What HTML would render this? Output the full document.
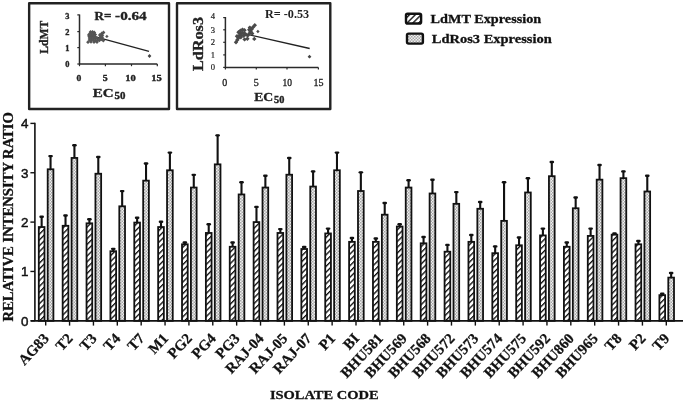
<!DOCTYPE html>
<html><head><meta charset="utf-8"><style>
html,body{margin:0;padding:0;background:#fff;}
svg{display:block;filter:grayscale(1);}
.sb{font-family:"Liberation Serif",serif;font-weight:bold;}
.ss{font-family:"Liberation Sans",sans-serif;}
.sr{font-family:"Liberation Serif",serif;}
</style></head><body>
<svg width="685" height="402" viewBox="0 0 685 402">
<defs>
<pattern id="hat" patternUnits="userSpaceOnUse" width="4.1" height="5" patternTransform="rotate(45)">
<rect width="4.1" height="5" fill="#fff"/><rect width="1.35" height="5" fill="#111"/>
</pattern>
<pattern id="dot" patternUnits="userSpaceOnUse" width="3" height="3">
<rect width="3" height="3" fill="#f0f0f0"/><rect width="1.5" height="1.5" fill="#a6a6a6"/><rect x="1.5" y="1.5" width="1.5" height="1.5" fill="#a6a6a6"/>
</pattern>
</defs>
<rect width="685" height="402" fill="#fff"/>

<line x1="34.9" y1="122.70" x2="34.9" y2="320.80" stroke="#111" stroke-width="1.6"/>
<line x1="30.4" y1="320.80" x2="34.9" y2="320.80" stroke="#111" stroke-width="1.4"/>
<text class="ss" x="28.4" y="325.60" font-size="13.4" text-anchor="end" fill="#111" stroke="#111" stroke-width="0.45">0</text>
<line x1="30.4" y1="271.45" x2="34.9" y2="271.45" stroke="#111" stroke-width="1.4"/>
<text class="ss" x="28.4" y="276.25" font-size="13.4" text-anchor="end" fill="#111" stroke="#111" stroke-width="0.45">1</text>
<line x1="30.4" y1="222.10" x2="34.9" y2="222.10" stroke="#111" stroke-width="1.4"/>
<text class="ss" x="28.4" y="226.90" font-size="13.4" text-anchor="end" fill="#111" stroke="#111" stroke-width="0.45">2</text>
<line x1="30.4" y1="172.75" x2="34.9" y2="172.75" stroke="#111" stroke-width="1.4"/>
<text class="ss" x="28.4" y="177.55" font-size="13.4" text-anchor="end" fill="#111" stroke="#111" stroke-width="0.45">3</text>
<line x1="30.4" y1="123.40" x2="34.9" y2="123.40" stroke="#111" stroke-width="1.4"/>
<text class="ss" x="28.4" y="128.20" font-size="13.4" text-anchor="end" fill="#111" stroke="#111" stroke-width="0.45">4</text>
<line x1="30.8" y1="320.80" x2="683" y2="320.80" stroke="#111" stroke-width="1.8"/>
<line x1="45.70" y1="320.80" x2="45.70" y2="325.6" stroke="#111" stroke-width="1.4"/>
<line x1="41.65" y1="227.04" x2="41.65" y2="216.18" stroke="#111" stroke-width="2.1"/>
<line x1="40.55" y1="216.78" x2="42.75" y2="216.78" stroke="#111" stroke-width="2.4" stroke-linecap="round"/>
<rect x="38.80" y="227.04" width="5.70" height="93.76" fill="url(#hat)" stroke="#111" stroke-width="1.8"/>
<line x1="50.55" y1="169.30" x2="50.55" y2="155.48" stroke="#111" stroke-width="2.1"/>
<line x1="49.45" y1="156.08" x2="51.65" y2="156.08" stroke="#111" stroke-width="2.4" stroke-linecap="round"/>
<rect x="47.70" y="169.30" width="5.70" height="151.50" fill="url(#dot)" stroke="#111" stroke-width="1.8"/>
<text class="sb" font-size="14.8" text-anchor="end" fill="#111" stroke="#111" stroke-width="0.25" transform="translate(49.70,339.0) rotate(-47)">AG83</text>
<line x1="69.57" y1="320.80" x2="69.57" y2="325.6" stroke="#111" stroke-width="1.4"/>
<line x1="65.52" y1="225.80" x2="65.52" y2="214.89" stroke="#111" stroke-width="2.1"/>
<line x1="64.42" y1="215.49" x2="66.62" y2="215.49" stroke="#111" stroke-width="2.4" stroke-linecap="round"/>
<rect x="62.67" y="225.80" width="5.70" height="95.00" fill="url(#hat)" stroke="#111" stroke-width="1.8"/>
<line x1="74.42" y1="157.95" x2="74.42" y2="144.62" stroke="#111" stroke-width="2.1"/>
<line x1="73.32" y1="145.22" x2="75.52" y2="145.22" stroke="#111" stroke-width="2.4" stroke-linecap="round"/>
<rect x="71.57" y="157.95" width="5.70" height="162.85" fill="url(#dot)" stroke="#111" stroke-width="1.8"/>
<text class="sb" font-size="14.8" text-anchor="end" fill="#111" stroke="#111" stroke-width="0.25" transform="translate(73.57,339.0) rotate(-47)">T2</text>
<line x1="93.44" y1="320.80" x2="93.44" y2="325.6" stroke="#111" stroke-width="1.4"/>
<line x1="89.39" y1="223.33" x2="89.39" y2="218.65" stroke="#111" stroke-width="2.1"/>
<line x1="88.29" y1="219.25" x2="90.49" y2="219.25" stroke="#111" stroke-width="2.4" stroke-linecap="round"/>
<rect x="86.54" y="223.33" width="5.70" height="97.47" fill="url(#hat)" stroke="#111" stroke-width="1.8"/>
<line x1="98.29" y1="173.74" x2="98.29" y2="156.46" stroke="#111" stroke-width="2.1"/>
<line x1="97.19" y1="157.06" x2="99.39" y2="157.06" stroke="#111" stroke-width="2.4" stroke-linecap="round"/>
<rect x="95.44" y="173.74" width="5.70" height="147.06" fill="url(#dot)" stroke="#111" stroke-width="1.8"/>
<text class="sb" font-size="14.8" text-anchor="end" fill="#111" stroke="#111" stroke-width="0.25" transform="translate(97.44,339.0) rotate(-47)">T3</text>
<line x1="117.31" y1="320.80" x2="117.31" y2="325.6" stroke="#111" stroke-width="1.4"/>
<line x1="113.26" y1="251.22" x2="113.26" y2="248.26" stroke="#111" stroke-width="2.1"/>
<line x1="112.16" y1="248.86" x2="114.36" y2="248.86" stroke="#111" stroke-width="2.4" stroke-linecap="round"/>
<rect x="110.41" y="251.22" width="5.70" height="69.58" fill="url(#hat)" stroke="#111" stroke-width="1.8"/>
<line x1="122.16" y1="206.31" x2="122.16" y2="190.52" stroke="#111" stroke-width="2.1"/>
<line x1="121.06" y1="191.12" x2="123.26" y2="191.12" stroke="#111" stroke-width="2.4" stroke-linecap="round"/>
<rect x="119.31" y="206.31" width="5.70" height="114.49" fill="url(#dot)" stroke="#111" stroke-width="1.8"/>
<text class="sb" font-size="14.8" text-anchor="end" fill="#111" stroke="#111" stroke-width="0.25" transform="translate(121.31,339.0) rotate(-47)">T4</text>
<line x1="141.18" y1="320.80" x2="141.18" y2="325.6" stroke="#111" stroke-width="1.4"/>
<line x1="137.13" y1="222.59" x2="137.13" y2="217.17" stroke="#111" stroke-width="2.1"/>
<line x1="136.03" y1="217.77" x2="138.23" y2="217.77" stroke="#111" stroke-width="2.4" stroke-linecap="round"/>
<rect x="134.28" y="222.59" width="5.70" height="98.21" fill="url(#hat)" stroke="#111" stroke-width="1.8"/>
<line x1="146.03" y1="180.65" x2="146.03" y2="162.88" stroke="#111" stroke-width="2.1"/>
<line x1="144.93" y1="163.48" x2="147.13" y2="163.48" stroke="#111" stroke-width="2.4" stroke-linecap="round"/>
<rect x="143.18" y="180.65" width="5.70" height="140.15" fill="url(#dot)" stroke="#111" stroke-width="1.8"/>
<text class="sb" font-size="14.8" text-anchor="end" fill="#111" stroke="#111" stroke-width="0.25" transform="translate(145.18,339.0) rotate(-47)">T7</text>
<line x1="165.05" y1="320.80" x2="165.05" y2="325.6" stroke="#111" stroke-width="1.4"/>
<line x1="161.00" y1="227.04" x2="161.00" y2="221.11" stroke="#111" stroke-width="2.1"/>
<line x1="159.90" y1="221.71" x2="162.10" y2="221.71" stroke="#111" stroke-width="2.4" stroke-linecap="round"/>
<rect x="158.15" y="227.04" width="5.70" height="93.76" fill="url(#hat)" stroke="#111" stroke-width="1.8"/>
<line x1="169.90" y1="170.28" x2="169.90" y2="152.02" stroke="#111" stroke-width="2.1"/>
<line x1="168.80" y1="152.62" x2="171.00" y2="152.62" stroke="#111" stroke-width="2.4" stroke-linecap="round"/>
<rect x="167.05" y="170.28" width="5.70" height="150.52" fill="url(#dot)" stroke="#111" stroke-width="1.8"/>
<text class="sb" font-size="14.8" text-anchor="end" fill="#111" stroke="#111" stroke-width="0.25" transform="translate(169.05,339.0) rotate(-47)">M1</text>
<line x1="188.92" y1="320.80" x2="188.92" y2="325.6" stroke="#111" stroke-width="1.4"/>
<line x1="184.87" y1="244.31" x2="184.87" y2="241.84" stroke="#111" stroke-width="2.1"/>
<line x1="183.77" y1="242.44" x2="185.97" y2="242.44" stroke="#111" stroke-width="2.4" stroke-linecap="round"/>
<rect x="182.02" y="244.31" width="5.70" height="76.49" fill="url(#hat)" stroke="#111" stroke-width="1.8"/>
<line x1="193.77" y1="187.56" x2="193.77" y2="174.23" stroke="#111" stroke-width="2.1"/>
<line x1="192.67" y1="174.83" x2="194.87" y2="174.83" stroke="#111" stroke-width="2.4" stroke-linecap="round"/>
<rect x="190.92" y="187.56" width="5.70" height="133.25" fill="url(#dot)" stroke="#111" stroke-width="1.8"/>
<text class="sb" font-size="14.8" text-anchor="end" fill="#111" stroke="#111" stroke-width="0.25" transform="translate(192.92,339.0) rotate(-47)">PG2</text>
<line x1="212.78" y1="320.80" x2="212.78" y2="325.6" stroke="#111" stroke-width="1.4"/>
<line x1="208.73" y1="232.96" x2="208.73" y2="223.58" stroke="#111" stroke-width="2.1"/>
<line x1="207.63" y1="224.18" x2="209.83" y2="224.18" stroke="#111" stroke-width="2.4" stroke-linecap="round"/>
<rect x="205.88" y="232.96" width="5.70" height="87.84" fill="url(#hat)" stroke="#111" stroke-width="1.8"/>
<line x1="217.63" y1="164.36" x2="217.63" y2="134.75" stroke="#111" stroke-width="2.1"/>
<line x1="216.53" y1="135.35" x2="218.73" y2="135.35" stroke="#111" stroke-width="2.4" stroke-linecap="round"/>
<rect x="214.78" y="164.36" width="5.70" height="156.44" fill="url(#dot)" stroke="#111" stroke-width="1.8"/>
<text class="sb" font-size="14.8" text-anchor="end" fill="#111" stroke="#111" stroke-width="0.25" transform="translate(216.78,339.0) rotate(-47)">PG4</text>
<line x1="236.65" y1="320.80" x2="236.65" y2="325.6" stroke="#111" stroke-width="1.4"/>
<line x1="232.60" y1="246.78" x2="232.60" y2="241.84" stroke="#111" stroke-width="2.1"/>
<line x1="231.50" y1="242.44" x2="233.70" y2="242.44" stroke="#111" stroke-width="2.4" stroke-linecap="round"/>
<rect x="229.75" y="246.78" width="5.70" height="74.03" fill="url(#hat)" stroke="#111" stroke-width="1.8"/>
<line x1="241.50" y1="194.46" x2="241.50" y2="181.63" stroke="#111" stroke-width="2.1"/>
<line x1="240.40" y1="182.23" x2="242.60" y2="182.23" stroke="#111" stroke-width="2.4" stroke-linecap="round"/>
<rect x="238.65" y="194.46" width="5.70" height="126.34" fill="url(#dot)" stroke="#111" stroke-width="1.8"/>
<text class="sb" font-size="14.8" text-anchor="end" fill="#111" stroke="#111" stroke-width="0.25" transform="translate(240.65,339.0) rotate(-47)">PG3</text>
<line x1="260.52" y1="320.80" x2="260.52" y2="325.6" stroke="#111" stroke-width="1.4"/>
<line x1="256.47" y1="222.10" x2="256.47" y2="206.31" stroke="#111" stroke-width="2.1"/>
<line x1="255.37" y1="206.91" x2="257.57" y2="206.91" stroke="#111" stroke-width="2.4" stroke-linecap="round"/>
<rect x="253.62" y="222.10" width="5.70" height="98.70" fill="url(#hat)" stroke="#111" stroke-width="1.8"/>
<line x1="265.37" y1="187.56" x2="265.37" y2="175.22" stroke="#111" stroke-width="2.1"/>
<line x1="264.27" y1="175.82" x2="266.47" y2="175.82" stroke="#111" stroke-width="2.4" stroke-linecap="round"/>
<rect x="262.52" y="187.56" width="5.70" height="133.25" fill="url(#dot)" stroke="#111" stroke-width="1.8"/>
<text class="sb" font-size="14.8" text-anchor="end" fill="#111" stroke="#111" stroke-width="0.25" transform="translate(264.52,339.0) rotate(-47)">RAJ-04</text>
<line x1="284.39" y1="320.80" x2="284.39" y2="325.6" stroke="#111" stroke-width="1.4"/>
<line x1="280.34" y1="232.96" x2="280.34" y2="228.52" stroke="#111" stroke-width="2.1"/>
<line x1="279.24" y1="229.12" x2="281.44" y2="229.12" stroke="#111" stroke-width="2.4" stroke-linecap="round"/>
<rect x="277.49" y="232.96" width="5.70" height="87.84" fill="url(#hat)" stroke="#111" stroke-width="1.8"/>
<line x1="289.24" y1="174.72" x2="289.24" y2="157.45" stroke="#111" stroke-width="2.1"/>
<line x1="288.14" y1="158.05" x2="290.34" y2="158.05" stroke="#111" stroke-width="2.4" stroke-linecap="round"/>
<rect x="286.39" y="174.72" width="5.70" height="146.08" fill="url(#dot)" stroke="#111" stroke-width="1.8"/>
<text class="sb" font-size="14.8" text-anchor="end" fill="#111" stroke="#111" stroke-width="0.25" transform="translate(288.39,339.0) rotate(-47)">RAJ-05</text>
<line x1="308.26" y1="320.80" x2="308.26" y2="325.6" stroke="#111" stroke-width="1.4"/>
<line x1="304.21" y1="249.00" x2="304.21" y2="246.28" stroke="#111" stroke-width="2.1"/>
<line x1="303.11" y1="246.88" x2="305.31" y2="246.88" stroke="#111" stroke-width="2.4" stroke-linecap="round"/>
<rect x="301.36" y="249.00" width="5.70" height="71.80" fill="url(#hat)" stroke="#111" stroke-width="1.8"/>
<line x1="313.11" y1="186.57" x2="313.11" y2="170.78" stroke="#111" stroke-width="2.1"/>
<line x1="312.01" y1="171.38" x2="314.21" y2="171.38" stroke="#111" stroke-width="2.4" stroke-linecap="round"/>
<rect x="310.26" y="186.57" width="5.70" height="134.23" fill="url(#dot)" stroke="#111" stroke-width="1.8"/>
<text class="sb" font-size="14.8" text-anchor="end" fill="#111" stroke="#111" stroke-width="0.25" transform="translate(312.26,339.0) rotate(-47)">RAJ-07</text>
<line x1="332.13" y1="320.80" x2="332.13" y2="325.6" stroke="#111" stroke-width="1.4"/>
<line x1="328.08" y1="233.45" x2="328.08" y2="228.02" stroke="#111" stroke-width="2.1"/>
<line x1="326.98" y1="228.62" x2="329.18" y2="228.62" stroke="#111" stroke-width="2.4" stroke-linecap="round"/>
<rect x="325.23" y="233.45" width="5.70" height="87.35" fill="url(#hat)" stroke="#111" stroke-width="1.8"/>
<line x1="336.98" y1="170.28" x2="336.98" y2="152.02" stroke="#111" stroke-width="2.1"/>
<line x1="335.88" y1="152.62" x2="338.08" y2="152.62" stroke="#111" stroke-width="2.4" stroke-linecap="round"/>
<rect x="334.13" y="170.28" width="5.70" height="150.52" fill="url(#dot)" stroke="#111" stroke-width="1.8"/>
<text class="sb" font-size="14.8" text-anchor="end" fill="#111" stroke="#111" stroke-width="0.25" transform="translate(336.13,339.0) rotate(-47)">P1</text>
<line x1="356.00" y1="320.80" x2="356.00" y2="325.6" stroke="#111" stroke-width="1.4"/>
<line x1="351.95" y1="241.84" x2="351.95" y2="237.40" stroke="#111" stroke-width="2.1"/>
<line x1="350.85" y1="238.00" x2="353.05" y2="238.00" stroke="#111" stroke-width="2.4" stroke-linecap="round"/>
<rect x="349.10" y="241.84" width="5.70" height="78.96" fill="url(#hat)" stroke="#111" stroke-width="1.8"/>
<line x1="360.85" y1="191.01" x2="360.85" y2="171.76" stroke="#111" stroke-width="2.1"/>
<line x1="359.75" y1="172.36" x2="361.95" y2="172.36" stroke="#111" stroke-width="2.4" stroke-linecap="round"/>
<rect x="358.00" y="191.01" width="5.70" height="129.79" fill="url(#dot)" stroke="#111" stroke-width="1.8"/>
<text class="sb" font-size="14.8" text-anchor="end" fill="#111" stroke="#111" stroke-width="0.25" transform="translate(360.00,339.0) rotate(-47)">BI</text>
<line x1="379.87" y1="320.80" x2="379.87" y2="325.6" stroke="#111" stroke-width="1.4"/>
<line x1="375.82" y1="241.84" x2="375.82" y2="237.89" stroke="#111" stroke-width="2.1"/>
<line x1="374.72" y1="238.49" x2="376.92" y2="238.49" stroke="#111" stroke-width="2.4" stroke-linecap="round"/>
<rect x="372.97" y="241.84" width="5.70" height="78.96" fill="url(#hat)" stroke="#111" stroke-width="1.8"/>
<line x1="384.72" y1="214.70" x2="384.72" y2="202.36" stroke="#111" stroke-width="2.1"/>
<line x1="383.62" y1="202.96" x2="385.82" y2="202.96" stroke="#111" stroke-width="2.4" stroke-linecap="round"/>
<rect x="381.87" y="214.70" width="5.70" height="106.10" fill="url(#dot)" stroke="#111" stroke-width="1.8"/>
<text class="sb" font-size="14.8" text-anchor="end" fill="#111" stroke="#111" stroke-width="0.25" transform="translate(383.87,339.0) rotate(-47)">BHU581</text>
<line x1="403.74" y1="320.80" x2="403.74" y2="325.6" stroke="#111" stroke-width="1.4"/>
<line x1="399.69" y1="226.54" x2="399.69" y2="223.58" stroke="#111" stroke-width="2.1"/>
<line x1="398.59" y1="224.18" x2="400.79" y2="224.18" stroke="#111" stroke-width="2.4" stroke-linecap="round"/>
<rect x="396.84" y="226.54" width="5.70" height="94.26" fill="url(#hat)" stroke="#111" stroke-width="1.8"/>
<line x1="408.59" y1="187.56" x2="408.59" y2="179.66" stroke="#111" stroke-width="2.1"/>
<line x1="407.49" y1="180.26" x2="409.69" y2="180.26" stroke="#111" stroke-width="2.4" stroke-linecap="round"/>
<rect x="405.74" y="187.56" width="5.70" height="133.25" fill="url(#dot)" stroke="#111" stroke-width="1.8"/>
<text class="sb" font-size="14.8" text-anchor="end" fill="#111" stroke="#111" stroke-width="0.25" transform="translate(407.74,339.0) rotate(-47)">BHU569</text>
<line x1="427.61" y1="320.80" x2="427.61" y2="325.6" stroke="#111" stroke-width="1.4"/>
<line x1="423.56" y1="243.32" x2="423.56" y2="236.41" stroke="#111" stroke-width="2.1"/>
<line x1="422.46" y1="237.01" x2="424.66" y2="237.01" stroke="#111" stroke-width="2.4" stroke-linecap="round"/>
<rect x="420.71" y="243.32" width="5.70" height="77.48" fill="url(#hat)" stroke="#111" stroke-width="1.8"/>
<line x1="432.46" y1="193.48" x2="432.46" y2="179.17" stroke="#111" stroke-width="2.1"/>
<line x1="431.36" y1="179.77" x2="433.56" y2="179.77" stroke="#111" stroke-width="2.4" stroke-linecap="round"/>
<rect x="429.61" y="193.48" width="5.70" height="127.32" fill="url(#dot)" stroke="#111" stroke-width="1.8"/>
<text class="sb" font-size="14.8" text-anchor="end" fill="#111" stroke="#111" stroke-width="0.25" transform="translate(431.61,339.0) rotate(-47)">BHU568</text>
<line x1="451.48" y1="320.80" x2="451.48" y2="325.6" stroke="#111" stroke-width="1.4"/>
<line x1="447.43" y1="251.71" x2="447.43" y2="244.31" stroke="#111" stroke-width="2.1"/>
<line x1="446.33" y1="244.91" x2="448.53" y2="244.91" stroke="#111" stroke-width="2.4" stroke-linecap="round"/>
<rect x="444.58" y="251.71" width="5.70" height="69.09" fill="url(#hat)" stroke="#111" stroke-width="1.8"/>
<line x1="456.33" y1="203.84" x2="456.33" y2="191.50" stroke="#111" stroke-width="2.1"/>
<line x1="455.23" y1="192.10" x2="457.43" y2="192.10" stroke="#111" stroke-width="2.4" stroke-linecap="round"/>
<rect x="453.48" y="203.84" width="5.70" height="116.96" fill="url(#dot)" stroke="#111" stroke-width="1.8"/>
<text class="sb" font-size="14.8" text-anchor="end" fill="#111" stroke="#111" stroke-width="0.25" transform="translate(455.48,339.0) rotate(-47)">BHU572</text>
<line x1="475.35" y1="320.80" x2="475.35" y2="325.6" stroke="#111" stroke-width="1.4"/>
<line x1="471.30" y1="241.84" x2="471.30" y2="234.44" stroke="#111" stroke-width="2.1"/>
<line x1="470.20" y1="235.04" x2="472.40" y2="235.04" stroke="#111" stroke-width="2.4" stroke-linecap="round"/>
<rect x="468.45" y="241.84" width="5.70" height="78.96" fill="url(#hat)" stroke="#111" stroke-width="1.8"/>
<line x1="480.20" y1="208.78" x2="480.20" y2="201.37" stroke="#111" stroke-width="2.1"/>
<line x1="479.10" y1="201.97" x2="481.30" y2="201.97" stroke="#111" stroke-width="2.4" stroke-linecap="round"/>
<rect x="477.35" y="208.78" width="5.70" height="112.02" fill="url(#dot)" stroke="#111" stroke-width="1.8"/>
<text class="sb" font-size="14.8" text-anchor="end" fill="#111" stroke="#111" stroke-width="0.25" transform="translate(479.35,339.0) rotate(-47)">BHU573</text>
<line x1="499.22" y1="320.80" x2="499.22" y2="325.6" stroke="#111" stroke-width="1.4"/>
<line x1="495.17" y1="253.19" x2="495.17" y2="245.79" stroke="#111" stroke-width="2.1"/>
<line x1="494.07" y1="246.39" x2="496.27" y2="246.39" stroke="#111" stroke-width="2.4" stroke-linecap="round"/>
<rect x="492.32" y="253.19" width="5.70" height="67.61" fill="url(#hat)" stroke="#111" stroke-width="1.8"/>
<line x1="504.07" y1="220.87" x2="504.07" y2="181.63" stroke="#111" stroke-width="2.1"/>
<line x1="502.97" y1="182.23" x2="505.17" y2="182.23" stroke="#111" stroke-width="2.4" stroke-linecap="round"/>
<rect x="501.22" y="220.87" width="5.70" height="99.93" fill="url(#dot)" stroke="#111" stroke-width="1.8"/>
<text class="sb" font-size="14.8" text-anchor="end" fill="#111" stroke="#111" stroke-width="0.25" transform="translate(503.22,339.0) rotate(-47)">BHU574</text>
<line x1="523.08" y1="320.80" x2="523.08" y2="325.6" stroke="#111" stroke-width="1.4"/>
<line x1="519.03" y1="245.29" x2="519.03" y2="236.91" stroke="#111" stroke-width="2.1"/>
<line x1="517.93" y1="237.51" x2="520.13" y2="237.51" stroke="#111" stroke-width="2.4" stroke-linecap="round"/>
<rect x="516.18" y="245.29" width="5.70" height="75.51" fill="url(#hat)" stroke="#111" stroke-width="1.8"/>
<line x1="527.93" y1="192.49" x2="527.93" y2="177.69" stroke="#111" stroke-width="2.1"/>
<line x1="526.83" y1="178.28" x2="529.03" y2="178.28" stroke="#111" stroke-width="2.4" stroke-linecap="round"/>
<rect x="525.08" y="192.49" width="5.70" height="128.31" fill="url(#dot)" stroke="#111" stroke-width="1.8"/>
<text class="sb" font-size="14.8" text-anchor="end" fill="#111" stroke="#111" stroke-width="0.25" transform="translate(527.08,339.0) rotate(-47)">BHU575</text>
<line x1="546.95" y1="320.80" x2="546.95" y2="325.6" stroke="#111" stroke-width="1.4"/>
<line x1="542.90" y1="235.42" x2="542.90" y2="228.02" stroke="#111" stroke-width="2.1"/>
<line x1="541.80" y1="228.62" x2="544.00" y2="228.62" stroke="#111" stroke-width="2.4" stroke-linecap="round"/>
<rect x="540.05" y="235.42" width="5.70" height="85.38" fill="url(#hat)" stroke="#111" stroke-width="1.8"/>
<line x1="551.80" y1="176.20" x2="551.80" y2="161.40" stroke="#111" stroke-width="2.1"/>
<line x1="550.70" y1="162.00" x2="552.90" y2="162.00" stroke="#111" stroke-width="2.4" stroke-linecap="round"/>
<rect x="548.95" y="176.20" width="5.70" height="144.60" fill="url(#dot)" stroke="#111" stroke-width="1.8"/>
<text class="sb" font-size="14.8" text-anchor="end" fill="#111" stroke="#111" stroke-width="0.25" transform="translate(550.95,339.0) rotate(-47)">BHU592</text>
<line x1="570.82" y1="320.80" x2="570.82" y2="325.6" stroke="#111" stroke-width="1.4"/>
<line x1="566.77" y1="246.78" x2="566.77" y2="241.84" stroke="#111" stroke-width="2.1"/>
<line x1="565.67" y1="242.44" x2="567.87" y2="242.44" stroke="#111" stroke-width="2.4" stroke-linecap="round"/>
<rect x="563.92" y="246.78" width="5.70" height="74.03" fill="url(#hat)" stroke="#111" stroke-width="1.8"/>
<line x1="575.67" y1="208.28" x2="575.67" y2="196.93" stroke="#111" stroke-width="2.1"/>
<line x1="574.57" y1="197.53" x2="576.77" y2="197.53" stroke="#111" stroke-width="2.4" stroke-linecap="round"/>
<rect x="572.82" y="208.28" width="5.70" height="112.52" fill="url(#dot)" stroke="#111" stroke-width="1.8"/>
<text class="sb" font-size="14.8" text-anchor="end" fill="#111" stroke="#111" stroke-width="0.25" transform="translate(574.82,339.0) rotate(-47)">BHU860</text>
<line x1="594.69" y1="320.80" x2="594.69" y2="325.6" stroke="#111" stroke-width="1.4"/>
<line x1="590.64" y1="235.92" x2="590.64" y2="228.02" stroke="#111" stroke-width="2.1"/>
<line x1="589.54" y1="228.62" x2="591.74" y2="228.62" stroke="#111" stroke-width="2.4" stroke-linecap="round"/>
<rect x="587.79" y="235.92" width="5.70" height="84.88" fill="url(#hat)" stroke="#111" stroke-width="1.8"/>
<line x1="599.54" y1="179.66" x2="599.54" y2="164.36" stroke="#111" stroke-width="2.1"/>
<line x1="598.44" y1="164.96" x2="600.64" y2="164.96" stroke="#111" stroke-width="2.4" stroke-linecap="round"/>
<rect x="596.69" y="179.66" width="5.70" height="141.14" fill="url(#dot)" stroke="#111" stroke-width="1.8"/>
<text class="sb" font-size="14.8" text-anchor="end" fill="#111" stroke="#111" stroke-width="0.25" transform="translate(598.69,339.0) rotate(-47)">BHU965</text>
<line x1="618.56" y1="320.80" x2="618.56" y2="325.6" stroke="#111" stroke-width="1.4"/>
<line x1="614.51" y1="234.68" x2="614.51" y2="232.96" stroke="#111" stroke-width="2.1"/>
<line x1="613.41" y1="233.56" x2="615.61" y2="233.56" stroke="#111" stroke-width="2.4" stroke-linecap="round"/>
<rect x="611.66" y="234.68" width="5.70" height="86.12" fill="url(#hat)" stroke="#111" stroke-width="1.8"/>
<line x1="623.41" y1="178.18" x2="623.41" y2="170.78" stroke="#111" stroke-width="2.1"/>
<line x1="622.31" y1="171.38" x2="624.51" y2="171.38" stroke="#111" stroke-width="2.4" stroke-linecap="round"/>
<rect x="620.56" y="178.18" width="5.70" height="142.62" fill="url(#dot)" stroke="#111" stroke-width="1.8"/>
<text class="sb" font-size="14.8" text-anchor="end" fill="#111" stroke="#111" stroke-width="0.25" transform="translate(622.56,339.0) rotate(-47)">T8</text>
<line x1="642.43" y1="320.80" x2="642.43" y2="325.6" stroke="#111" stroke-width="1.4"/>
<line x1="638.38" y1="244.31" x2="638.38" y2="240.36" stroke="#111" stroke-width="2.1"/>
<line x1="637.28" y1="240.96" x2="639.48" y2="240.96" stroke="#111" stroke-width="2.4" stroke-linecap="round"/>
<rect x="635.53" y="244.31" width="5.70" height="76.49" fill="url(#hat)" stroke="#111" stroke-width="1.8"/>
<line x1="647.28" y1="191.50" x2="647.28" y2="175.22" stroke="#111" stroke-width="2.1"/>
<line x1="646.18" y1="175.82" x2="648.38" y2="175.82" stroke="#111" stroke-width="2.4" stroke-linecap="round"/>
<rect x="644.43" y="191.50" width="5.70" height="129.30" fill="url(#dot)" stroke="#111" stroke-width="1.8"/>
<text class="sb" font-size="14.8" text-anchor="end" fill="#111" stroke="#111" stroke-width="0.25" transform="translate(646.43,339.0) rotate(-47)">P2</text>
<line x1="666.30" y1="320.80" x2="666.30" y2="325.6" stroke="#111" stroke-width="1.4"/>
<line x1="662.25" y1="295.14" x2="662.25" y2="293.16" stroke="#111" stroke-width="2.1"/>
<line x1="661.15" y1="293.76" x2="663.35" y2="293.76" stroke="#111" stroke-width="2.4" stroke-linecap="round"/>
<rect x="659.40" y="295.14" width="5.70" height="25.66" fill="url(#hat)" stroke="#111" stroke-width="1.8"/>
<line x1="671.15" y1="277.62" x2="671.15" y2="272.44" stroke="#111" stroke-width="2.1"/>
<line x1="670.05" y1="273.04" x2="672.25" y2="273.04" stroke="#111" stroke-width="2.4" stroke-linecap="round"/>
<rect x="668.30" y="277.62" width="5.70" height="43.18" fill="url(#dot)" stroke="#111" stroke-width="1.8"/>
<text class="sb" font-size="14.8" text-anchor="end" fill="#111" stroke="#111" stroke-width="0.25" transform="translate(670.30,339.0) rotate(-47)">T9</text>
<text class="sb" font-size="13.7" text-anchor="middle" fill="#111" transform="translate(13.3,216.8) rotate(-90)" textLength="209.5" lengthAdjust="spacingAndGlyphs" stroke="#111" stroke-width="0.3">RELATIVE INTENSITY RATIO</text>
<text class="sb" x="269.9" y="398.5" font-size="13.5" fill="#111" textLength="108.7" lengthAdjust="spacingAndGlyphs" stroke="#111" stroke-width="0.3">ISOLATE CODE</text>
<rect x="406.0" y="13.7" width="15.1" height="9.8" rx="1.6" fill="url(#hat)" stroke="#111" stroke-width="2.4"/>
<rect x="407.0" y="33.6" width="15.9" height="10" rx="1.6" fill="url(#dot)" stroke="#111" stroke-width="2.4"/>
<text class="sb" x="430.6" y="23.0" font-size="13.4" fill="#111" textLength="110.6" lengthAdjust="spacingAndGlyphs" stroke="#111" stroke-width="0.3">LdMT Expression</text>
<text class="sb" x="431.8" y="42.9" font-size="13.4" fill="#111" textLength="120" lengthAdjust="spacingAndGlyphs" stroke="#111" stroke-width="0.3">LdRos3 Expression</text>
<rect x="29.15" y="3.3" width="139.85" height="105.7" fill="none" stroke="#222" stroke-width="2.4" stroke-linejoin="round"/>
<polyline points="79.5,14.4 79.5,64.0 157.3,64.0" fill="none" stroke="#2a2a2a" stroke-width="1.5"/>
<line x1="77.3" y1="14.9" x2="79.5" y2="14.9" stroke="#2a2a2a" stroke-width="1.2"/>
<text class="sb" x="69.4" y="18.8" font-size="8.4" text-anchor="end" fill="#222" stroke="#222" stroke-width="0.35">3</text>
<line x1="77.3" y1="31.6" x2="79.5" y2="31.6" stroke="#2a2a2a" stroke-width="1.2"/>
<text class="sb" x="69.4" y="35.0" font-size="8.4" text-anchor="end" fill="#222" stroke="#222" stroke-width="0.35">2</text>
<line x1="77.3" y1="47.6" x2="79.5" y2="47.6" stroke="#2a2a2a" stroke-width="1.2"/>
<text class="sb" x="69.4" y="50.8" font-size="8.4" text-anchor="end" fill="#222" stroke="#222" stroke-width="0.35">1</text>
<line x1="77.3" y1="64.0" x2="79.5" y2="64.0" stroke="#2a2a2a" stroke-width="1.2"/>
<text class="sb" x="69.4" y="66.7" font-size="8.4" text-anchor="end" fill="#222" stroke="#222" stroke-width="0.35">0</text>
<line x1="79.5" y1="64.0" x2="79.5" y2="66.2" stroke="#2a2a2a" stroke-width="1.2"/>
<text class="sb" x="76.40" y="81.1" font-size="8.8" fill="#222" stroke="#222" stroke-width="0.35" textLength="4.8" lengthAdjust="spacingAndGlyphs">0</text>
<line x1="105.4" y1="64.0" x2="105.4" y2="66.2" stroke="#2a2a2a" stroke-width="1.2"/>
<text class="sb" x="102.70" y="81.1" font-size="8.8" fill="#222" stroke="#222" stroke-width="0.35" textLength="4.9" lengthAdjust="spacingAndGlyphs">5</text>
<line x1="131.5" y1="64.0" x2="131.5" y2="66.2" stroke="#2a2a2a" stroke-width="1.2"/>
<text class="sb" x="125.35" y="81.1" font-size="8.8" fill="#222" stroke="#222" stroke-width="0.35" textLength="10.5" lengthAdjust="spacingAndGlyphs">10</text>
<line x1="157.3" y1="64.0" x2="157.3" y2="66.2" stroke="#2a2a2a" stroke-width="1.2"/>
<text class="sb" x="151.35" y="81.1" font-size="8.8" fill="#222" stroke="#222" stroke-width="0.35" textLength="10.5" lengthAdjust="spacingAndGlyphs">15</text>
<text class="sb" font-size="12.2" text-anchor="middle" fill="#222" stroke="#222" stroke-width="0.35" transform="translate(48.3,37.3) rotate(-90)" textLength="32.8" lengthAdjust="spacingAndGlyphs">LdMT</text>
<text class="sb" x="92.7" y="97" font-size="12.6" fill="#222" stroke="#222" stroke-width="0.35" textLength="20.9" lengthAdjust="spacingAndGlyphs">EC</text>
<text class="sb" x="114.6" y="99.3" font-size="9.8" fill="#222" stroke="#222" stroke-width="0.35" textLength="10.9" lengthAdjust="spacingAndGlyphs">50</text>
<text class="sb" x="94.5" y="19.9" font-size="11.8" fill="#222" stroke="#222" stroke-width="0.35" textLength="16.8" lengthAdjust="spacingAndGlyphs">R=</text>
<text class="sb" x="115.1" y="20.0" font-size="13.0" fill="#222" stroke="#222" stroke-width="0.35" textLength="31.6" lengthAdjust="spacingAndGlyphs">-0.64</text>
<line x1="87.5" y1="34.65" x2="149" y2="51.3" stroke="#222" stroke-width="1.3"/>
<path d="M90.5,30.1L92.4,32.0L90.5,33.9L88.6,32.0Z" fill="#555555"/>
<path d="M92.5,29.9L94.4,31.8L92.5,33.7L90.6,31.8Z" fill="#555555"/>
<path d="M94.3,30.6L96.2,32.5L94.3,34.4L92.4,32.5Z" fill="#555555"/>
<path d="M89.5,32.1L91.4,34.0L89.5,35.9L87.6,34.0Z" fill="#555555"/>
<path d="M91.5,32.1L93.4,34.0L91.5,35.9L89.6,34.0Z" fill="#555555"/>
<path d="M93.5,32.1L95.4,34.0L93.5,35.9L91.6,34.0Z" fill="#555555"/>
<path d="M95.2,32.7L97.1,34.6L95.2,36.5L93.3,34.6Z" fill="#555555"/>
<path d="M89.0,34.1L90.9,36.0L89.0,37.9L87.1,36.0Z" fill="#555555"/>
<path d="M91.0,34.1L92.9,36.0L91.0,37.9L89.1,36.0Z" fill="#555555"/>
<path d="M93.0,34.1L94.9,36.0L93.0,37.9L91.1,36.0Z" fill="#555555"/>
<path d="M95.0,34.6L96.9,36.5L95.0,38.4L93.1,36.5Z" fill="#555555"/>
<path d="M89.5,36.1L91.4,38.0L89.5,39.9L87.6,38.0Z" fill="#555555"/>
<path d="M91.5,36.1L93.4,38.0L91.5,39.9L89.6,38.0Z" fill="#555555"/>
<path d="M93.5,36.1L95.4,38.0L93.5,39.9L91.6,38.0Z" fill="#555555"/>
<path d="M95.5,36.6L97.4,38.5L95.5,40.4L93.6,38.5Z" fill="#555555"/>
<path d="M97.5,36.6L99.4,38.5L97.5,40.4L95.6,38.5Z" fill="#555555"/>
<path d="M89.5,38.1L91.4,40.0L89.5,41.9L87.6,40.0Z" fill="#555555"/>
<path d="M91.5,38.1L93.4,40.0L91.5,41.9L89.6,40.0Z" fill="#555555"/>
<path d="M93.5,38.1L95.4,40.0L93.5,41.9L91.6,40.0Z" fill="#555555"/>
<path d="M95.5,38.6L97.4,40.5L95.5,42.4L93.6,40.5Z" fill="#555555"/>
<path d="M97.5,38.6L99.4,40.5L97.5,42.4L95.6,40.5Z" fill="#555555"/>
<path d="M99.5,38.4L101.4,40.3L99.5,42.2L97.6,40.3Z" fill="#555555"/>
<path d="M88.0,40.3L89.9,42.2L88.0,44.1L86.1,42.2Z" fill="#555555"/>
<path d="M91.0,39.9L92.9,41.8L91.0,43.7L89.1,41.8Z" fill="#555555"/>
<path d="M94.0,40.1L95.9,42.0L94.0,43.9L92.1,42.0Z" fill="#555555"/>
<path d="M97.0,40.1L98.9,42.0L97.0,43.9L95.1,42.0Z" fill="#555555"/>
<path d="M103.5,30.6L105.4,32.5L103.5,34.4L101.6,32.5Z" fill="#555555"/>
<path d="M101.8,31.6L103.7,33.5L101.8,35.4L99.9,33.5Z" fill="#555555"/>
<path d="M99.8,33.1L101.7,35.0L99.8,36.9L97.9,35.0Z" fill="#555555"/>
<path d="M102.3,33.4L104.2,35.3L102.3,37.2L100.4,35.3Z" fill="#555555"/>
<path d="M100.5,35.1L102.4,37.0L100.5,38.9L98.6,37.0Z" fill="#555555"/>
<path d="M102.2,35.4L104.1,37.3L102.2,39.2L100.3,37.3Z" fill="#555555"/>
<path d="M99.5,36.9L101.4,38.8L99.5,40.7L97.6,38.8Z" fill="#555555"/>
<path d="M101.5,37.4L103.4,39.3L101.5,41.2L99.6,39.3Z" fill="#555555"/>
<path d="M103.3,38.7L105.2,40.6L103.3,42.5L101.4,40.6Z" fill="#555555"/>
<path d="M106.9,34.7L108.6,36.4L106.9,38.1L105.2,36.4Z" fill="#555555"/>
<path d="M149.5,54.1L151.4,56.0L149.5,57.9L147.6,56.0Z" fill="#444"/>
<rect x="177.0" y="3.3" width="153.3" height="105.7" fill="none" stroke="#222" stroke-width="2.4" stroke-linejoin="round"/>
<polyline points="225.4,17.0 225.4,67.4 318.4,67.4" fill="none" stroke="#2a2a2a" stroke-width="1.5"/>
<line x1="223.20000000000002" y1="17.6" x2="225.4" y2="17.6" stroke="#2a2a2a" stroke-width="1.2"/>
<text class="sr" x="215" y="19.4" font-size="8.6" text-anchor="end" fill="#222" stroke="#222" stroke-width="0.2">4</text>
<line x1="223.20000000000002" y1="29.8" x2="225.4" y2="29.8" stroke="#2a2a2a" stroke-width="1.2"/>
<text class="sr" x="215" y="32.6" font-size="8.6" text-anchor="end" fill="#222" stroke="#222" stroke-width="0.2">3</text>
<line x1="223.20000000000002" y1="42.3" x2="225.4" y2="42.3" stroke="#2a2a2a" stroke-width="1.2"/>
<text class="sr" x="215" y="44.9" font-size="8.6" text-anchor="end" fill="#222" stroke="#222" stroke-width="0.2">2</text>
<line x1="223.20000000000002" y1="54.9" x2="225.4" y2="54.9" stroke="#2a2a2a" stroke-width="1.2"/>
<text class="sr" x="215" y="58.0" font-size="8.6" text-anchor="end" fill="#222" stroke="#222" stroke-width="0.2">1</text>
<line x1="223.20000000000002" y1="67.4" x2="225.4" y2="67.4" stroke="#2a2a2a" stroke-width="1.2"/>
<text class="sr" x="215" y="70.1" font-size="8.6" text-anchor="end" fill="#222" stroke="#222" stroke-width="0.2">0</text>
<line x1="225.4" y1="67.4" x2="225.4" y2="69.60000000000001" stroke="#2a2a2a" stroke-width="1.2"/>
<text class="sr" x="222.35" y="85.7" font-size="9.4" fill="#222" stroke="#222" stroke-width="0.3" textLength="5.0" lengthAdjust="spacingAndGlyphs">0</text>
<line x1="256.3" y1="67.4" x2="256.3" y2="69.60000000000001" stroke="#2a2a2a" stroke-width="1.2"/>
<text class="sr" x="253.70" y="85.7" font-size="9.4" fill="#222" stroke="#222" stroke-width="0.3" textLength="5.0" lengthAdjust="spacingAndGlyphs">5</text>
<line x1="287.0" y1="67.4" x2="287.0" y2="69.60000000000001" stroke="#2a2a2a" stroke-width="1.2"/>
<text class="sr" x="282.50" y="85.7" font-size="9.4" fill="#222" stroke="#222" stroke-width="0.3" textLength="9.5" lengthAdjust="spacingAndGlyphs">10</text>
<line x1="318.4" y1="67.4" x2="318.4" y2="69.60000000000001" stroke="#2a2a2a" stroke-width="1.2"/>
<text class="sr" x="313.40" y="85.7" font-size="9.4" fill="#222" stroke="#222" stroke-width="0.3" textLength="10.0" lengthAdjust="spacingAndGlyphs">15</text>
<text class="sb" font-size="15.5" text-anchor="middle" fill="#222" stroke="#222" stroke-width="0.35" transform="translate(202.6,44) rotate(-90)" textLength="54" lengthAdjust="spacingAndGlyphs">LdRos3</text>
<text class="sb" x="254.2" y="100.7" font-size="12.9" fill="#222" stroke="#222" stroke-width="0.35" textLength="19" lengthAdjust="spacingAndGlyphs">EC</text>
<text class="sb" x="274" y="103" font-size="9.8" fill="#222" stroke="#222" stroke-width="0.35" textLength="10.3" lengthAdjust="spacingAndGlyphs">50</text>
<text class="sb" x="265" y="17.9" font-size="12.4" fill="#222" textLength="44.2" lengthAdjust="spacingAndGlyphs">R= -0.53</text>
<line x1="240" y1="32.7" x2="309.7" y2="48.5" stroke="#222" stroke-width="1.3"/>
<path d="M236.0,40.1L238.2,42.3L236.0,44.5L233.8,42.3Z" fill="#4a4a4a"/>
<path d="M237.3,37.8L239.5,40.0L237.3,42.2L235.1,40.0Z" fill="#4a4a4a"/>
<path d="M238.4,35.8L240.6,38.0L238.4,40.2L236.2,38.0Z" fill="#4a4a4a"/>
<path d="M237.0,34.0L239.2,36.2L237.0,38.4L234.8,36.2Z" fill="#4a4a4a"/>
<path d="M239.2,33.6L241.4,35.8L239.2,38.0L237.0,35.8Z" fill="#4a4a4a"/>
<path d="M240.2,31.4L242.4,33.6L240.2,35.8L238.0,33.6Z" fill="#4a4a4a"/>
<path d="M238.5,30.0L240.7,32.2L238.5,34.4L236.3,32.2Z" fill="#4a4a4a"/>
<path d="M240.5,28.4L242.7,30.6L240.5,32.8L238.3,30.6Z" fill="#4a4a4a"/>
<path d="M242.5,27.4L244.7,29.6L242.5,31.8L240.3,29.6Z" fill="#4a4a4a"/>
<path d="M244.5,28.0L246.7,30.2L244.5,32.4L242.3,30.2Z" fill="#4a4a4a"/>
<path d="M242.2,30.4L244.4,32.6L242.2,34.8L240.0,32.6Z" fill="#4a4a4a"/>
<path d="M244.2,30.8L246.4,33.0L244.2,35.2L242.0,33.0Z" fill="#4a4a4a"/>
<path d="M241.5,33.0L243.7,35.2L241.5,37.4L239.3,35.2Z" fill="#4a4a4a"/>
<path d="M243.6,33.6L245.8,35.8L243.6,38.0L241.4,35.8Z" fill="#4a4a4a"/>
<path d="M246.0,32.4L248.2,34.6L246.0,36.8L243.8,34.6Z" fill="#4a4a4a"/>
<path d="M247.8,33.4L250.0,35.6L247.8,37.8L245.6,35.6Z" fill="#4a4a4a"/>
<path d="M240.8,35.1L243.0,37.3L240.8,39.5L238.6,37.3Z" fill="#4a4a4a"/>
<path d="M249.6,31.0L251.8,33.2L249.6,35.4L247.4,33.2Z" fill="#4a4a4a"/>
<path d="M250.6,29.0L252.8,31.2L250.6,33.4L248.4,31.2Z" fill="#4a4a4a"/>
<path d="M251.6,27.0L253.8,29.2L251.6,31.4L249.4,29.2Z" fill="#4a4a4a"/>
<path d="M253.0,25.0L255.2,27.2L253.0,29.4L250.8,27.2Z" fill="#4a4a4a"/>
<path d="M254.8,23.1L257.0,25.3L254.8,27.5L252.6,25.3Z" fill="#4a4a4a"/>
<path d="M249.2,27.6L251.4,29.8L249.2,32.0L247.0,29.8Z" fill="#4a4a4a"/>
<path d="M249.8,25.4L252.0,27.6L249.8,29.8L247.6,27.6Z" fill="#4a4a4a"/>
<path d="M252.2,31.3L254.4,33.5L252.2,35.7L250.0,33.5Z" fill="#4a4a4a"/>
<path d="M244.6,37.2L246.8,39.4L244.6,41.6L242.4,39.4Z" fill="#4a4a4a"/>
<path d="M247.4,36.6L249.6,38.8L247.4,41.0L245.2,38.8Z" fill="#4a4a4a"/>
<path d="M254.3,36.7L256.5,38.9L254.3,41.1L252.1,38.9Z" fill="#4a4a4a"/>
<path d="M257.9,29.8L259.6,31.5L257.9,33.2L256.2,31.5Z" fill="#4a4a4a"/>
<path d="M309.5,54.8L311.4,56.7L309.5,58.6L307.6,56.7Z" fill="#444"/>
</svg></body></html>
